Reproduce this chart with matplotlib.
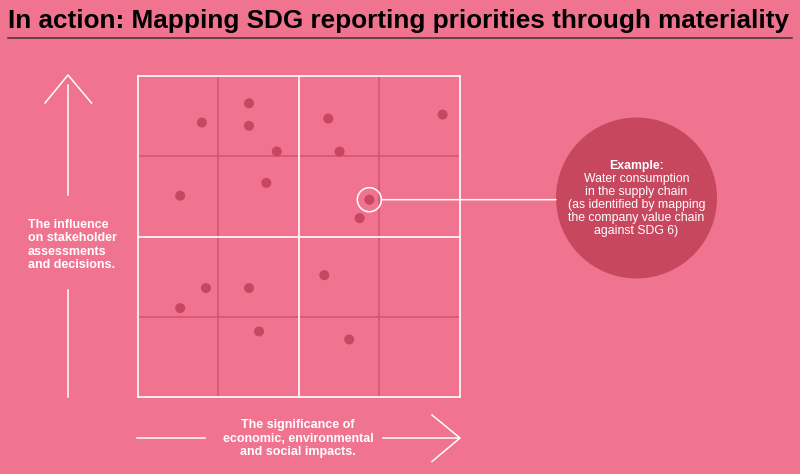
import numpy as np
import matplotlib
matplotlib.use("Agg")
import matplotlib.pyplot as plt
from matplotlib.patches import Circle
from matplotlib.transforms import blended_transform_factory

# materiality points (x = significance of impacts, y = influence on stakeholders), grid 0..4
xs = [0.80, 1.385, 1.385, 1.73, 2.37, 2.51, 3.79, 0.53, 1.60, 2.76, 2.32, 0.85, 1.385, 0.53, 1.51, 2.63]
ys = [3.42, 3.66, 3.38, 3.06, 3.47, 3.06, 3.52, 2.51, 2.67, 2.23, 1.52, 1.36, 1.36, 1.11, 0.82, 0.72]
# the highlighted example issue
hx, hy = 2.88, 2.46

title = "In action: Mapping SDG reporting priorities through materiality"
y_label = "The influence\non stakeholder\nassessments\nand decisions."
x_label = "The significance of\neconomic, environmental\nand social impacts."
ex_head = "Example:"
ex_body = "Water consumption\nin the supply chain\n(as identified by mapping\nthe company value chain\nagainst SDG 6)"

bg = "#F07490"
dot_c = "#C8465F"
dark_line = "#D4546F"

plt.rcParams['font.family'] = ['Liberation Sans', 'DejaVu Sans']

fig = plt.figure(figsize=(8, 4.74), dpi=100)
fig.patch.set_facecolor(bg)

# overlay in pixel coords for decorations
deco = fig.add_axes([0, 0, 1, 1])
deco.set_xlim(0, 800)
deco.set_ylim(474, 0)
deco.axis("off")
deco.patch.set_alpha(0)

deco.text(8, 28.3, title, fontsize=18.8, fontweight="bold", color="black", va="baseline", ha="left")
deco.plot([8, 792], [37.8, 37.8], color="#3e3034", lw=1.1)

# vertical arrow
deco.plot([68, 68], [85, 195], color="white", lw=1.1)
deco.plot([68, 68], [290, 397], color="white", lw=1.1)
deco.plot([45, 68, 91.5], [103, 75, 103], color="white", lw=1.1)
deco.text(28, 245, y_label, fontsize=9, fontweight="bold", color="white", ha="left", va="center",
          linespacing=1.15)

# horizontal arrow
deco.plot([137, 205], [438, 438], color="white", lw=1.1)
deco.plot([383, 459], [438, 438], color="white", lw=1.1)
deco.plot([432, 460, 432], [415, 438, 461.5], color="white", lw=1.1)
deco.text(298, 438.5, x_label, fontsize=9, fontweight="bold", color="white", ha="center", va="center",
          linespacing=1.15)

# example bubble
deco.add_patch(Circle((636.5, 198), 80.5, facecolor="#C7475F", edgecolor="none"))
deco.text(636.5, 165.5, ex_head, fontsize=8.8, fontweight="bold", color="white", ha="center", va="center")
deco.text(636.5, 205, ex_body, fontsize=8.8, color="white", ha="center", va="center", linespacing=1.1)

# materiality grid
ax = fig.add_axes([137.5 / 800, 76.7 / 474, 322 / 800, 321.3 / 474])
ax.set_xlim(0, 4)
ax.set_ylim(0, 4)
ax.patch.set_alpha(0)
for s in ax.spines.values():
    s.set_visible(False)
ax.set_xticks([])
ax.set_yticks([])

for v in [1, 3]:
    ax.axvline(v, color=dark_line, lw=1.1, zorder=1)
    ax.axhline(v, color=dark_line, lw=1.1, zorder=1)
for v in [0, 2, 4]:
    ax.axvline(v, color="white", lw=1.2, zorder=2, clip_on=False)
    ax.axhline(v, color="white", lw=1.2, zorder=2, clip_on=False)

ax.scatter(xs, ys, s=52, color=dot_c, edgecolors="none", zorder=3)
ax.scatter([hx], [hy], s=52, color=dot_c, edgecolors="none", zorder=3)
ax.scatter([hx], [hy], s=300, facecolors="none", edgecolors="white", linewidths=1.1, zorder=4)

# connector from highlighted point to bubble
tr = blended_transform_factory(fig.transFigure, ax.transData)
ax.annotate("", xy=(hx, hy), xycoords="data", xytext=(556 / 800, hy), textcoords=tr,
            arrowprops=dict(arrowstyle="-", color="white", lw=1.1, shrinkA=0, shrinkB=8.8),
            annotation_clip=False)

fig.savefig("out.png", dpi=100, facecolor=bg)
